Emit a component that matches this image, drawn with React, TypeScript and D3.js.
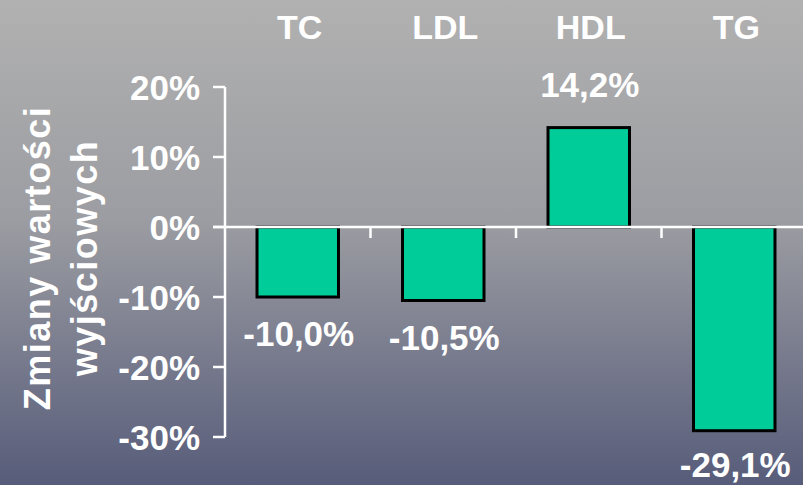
import React from "react";
import * as d3 from "d3";

const categories = ["TC", "LDL", "HDL", "TG"];
const values = [-10.0, -10.5, 14.2, -29.1];
const valueLabels = ["-10,0%", "-10,5%", "14,2%", "-29,1%"];
const yTicks = [20, 10, 0, -10, -20, -30];
const yTitle = ["Zmiany wartości", "wyjściowych"];

const W = 803;
const H = 485;
const FONT = "'Liberation Sans', Arial, sans-serif";

export default function App() {
  const y = d3.scaleLinear().domain([-30, 20]).range([437, 87]);
  const x = d3
    .scaleBand<string>()
    .domain(categories)
    .range([225, 807])
    .paddingInner(0.44)
    .paddingOuter(0.22);
  const step = x.step();
  const x0 = 225;
  const y0 = y(0);
  return (
    <svg
      width={W}
      height={H}
      style={{ position: "absolute", left: 0, top: 0, display: "block" }}
    >
      <defs>
        <linearGradient id="bg" x1="0" y1="0" x2="0" y2="1">
          <stop offset="0" stopColor="#b1b1b1" />
          <stop offset="0.45" stopColor="#9c9da2" />
          <stop offset="1" stopColor="#575c7a" />
        </linearGradient>
      </defs>
      <rect x={0} y={0} width={W} height={H} fill="url(#bg)" />

      {/* y axis */}
      <line x1={x0} x2={x0} y1={y(20)} y2={y(-30)} stroke="#fff" strokeWidth={2.5} />
      {yTicks.map((t) => (
        <g key={t}>
          <line x1={x0 - 12} x2={x0} y1={y(t)} y2={y(t)} stroke="#fff" strokeWidth={2.5} />
          <text
            x={200}
            y={y(t)}
            dy="0.36em"
            textAnchor="end"
            fill="#fff"
            fontFamily={FONT}
            fontWeight="bold"
            fontSize={35}
          >
            {t}%
          </text>
        </g>
      ))}

      {/* bars */}
      {categories.map((c, i) => {
        const v = values[i];
        const top = Math.min(y(v), y0);
        const h = Math.abs(y(v) - y0);
        return (
          <rect
            key={c}
            x={x(c)!}
            y={top}
            width={x.bandwidth()}
            height={h}
            fill="#00cc99"
            stroke="#000"
            strokeWidth={3}
          />
        );
      })}

      {/* x axis */}
      <line x1={x0 - 12} x2={W} y1={y0} y2={y0} stroke="#fff" strokeWidth={2.5} />
      {categories.slice(1).map((c, i) => (
        <line
          key={c}
          x1={x0 + step * (i + 1)}
          x2={x0 + step * (i + 1)}
          y1={y0}
          y2={y0 + 11}
          stroke="#fff"
          strokeWidth={2.5}
        />
      ))}

      {/* category labels */}
      {categories.map((c) => (
        <text
          key={c}
          x={x(c)! + x.bandwidth() / 2 + 2}
          y={39}
          textAnchor="middle"
          fill="#fff"
          fontFamily={FONT}
          fontWeight="bold"
          fontSize={34}
        >
          {c}
        </text>
      ))}

      {/* value labels */}
      {categories.map((c, i) => {
        const v = values[i];
        const ly = v >= 0 ? y(v) - 31 : Math.min(y(v) + 49, 477);
        return (
          <text
            key={c}
            x={x(c)! + x.bandwidth() / 2 + 1}
            y={ly}
            textAnchor="middle"
            fill="#fff"
            fontFamily={FONT}
            fontWeight="bold"
            fontSize={35}
          >
            {valueLabels[i]}
          </text>
        );
      })}

      {/* y title */}
      {yTitle.map((t, i) => (
        <text
          key={t}
          transform={`translate(${i === 0 ? 50 : 97},258) rotate(-90)`}
          textAnchor="middle"
          fill="#fff"
          fontFamily={FONT}
          fontWeight="bold"
          fontSize={36}
          letterSpacing={1.5}
        >
          {t}
        </text>
      ))}
    </svg>
  );
}
